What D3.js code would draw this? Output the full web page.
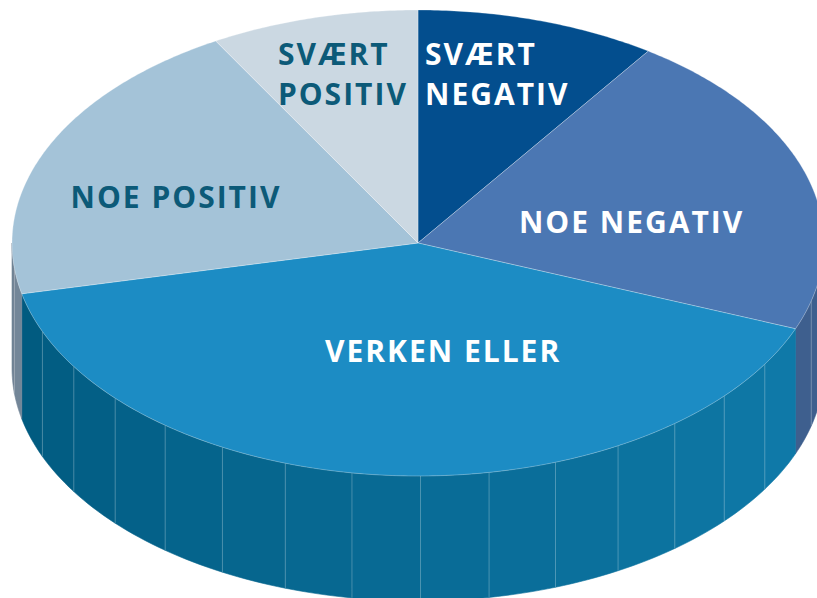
<!DOCTYPE html>
<html>
<head>
<meta charset="utf-8">
<script src="https://cdn.jsdelivr.net/npm/d3@7"></script>
<style>
  body { margin: 0; background: #fff; }
  svg { display: block; }
  .lbl { font-family: "Open Sans", sans-serif; font-weight: 700; letter-spacing: 2px; }
</style>
</head>
<body>
<svg id="chart"></svg>
<script>
// slices, clockwise from 12 o'clock
var categories = ["SVÆRT NEGATIV", "NOE NEGATIV", "VERKEN ELLER", "NOE POSITIV", "SVÆRT POSITIV"]
var shares = [9.6, 21.4, 40.5, 20.2, 8.3]
var labelLines = [["SVÆRT", "NEGATIV"], ["NOE NEGATIV"], ["VERKEN ELLER"], ["NOE POSITIV"], ["SVÆRT", "POSITIV"]]

var topColors = ["#034e8e", "#4b77b3", "#1c8cc4", "#a4c3d8", "#cbd8e2"]
var sideColors = [["#02406f", "#02406f"], ["#3e5f8e", "#3e5f8e"], ["#0f7aa9", "#005a7f"], ["#758899", "#6e8193"], ["#8ea0b0", "#8ea0b0"]]
var textColors = ["#ffffff", "#ffffff", "#ffffff", "#0c5a78", "#0c5a78"]

var drawPie = function(target)
{
    var screen = {width: 817, height: 598}
    var geo = {cx: 418, cy: 243, rx: 406, ry: 233, depth: 125}

    var svg = d3.select(target)
        .attr("width", screen.width)
        .attr("height", screen.height)

    var slices = d3.pie().sort(null).value(function(d) { return d })(shares)

    var px = function(a) { return geo.cx + geo.rx * Math.sin(a) }
    var py = function(a) { return geo.cy - geo.ry * Math.cos(a) }

    // sides: only the front half (pi/2 .. 3pi/2) can be seen
    var sides = svg.append("g").classed("sides", true)
    var facet = Math.PI / 18
    slices.forEach(function(s, i)
    {
        var a0 = Math.max(s.startAngle, Math.PI / 2)
        var a1 = Math.min(s.endAngle, Math.PI * 1.5)
        if (a1 <= a0) return
        var shade = d3.interpolateRgb(sideColors[i][0], sideColors[i][1])
        var n = Math.max(1, Math.ceil((a1 - a0) / facet))
        d3.range(n).forEach(function(k)
        {
            var b0 = a0 + (a1 - a0) * k / n
            var b1 = a0 + (a1 - a0) * (k + 1) / n
            var c = shade((k + 0.5) / n)
            var pts = d3.range(0, 1.0001, 0.125).map(function(t) { return b0 + (b1 - b0) * t })
            var top = pts.map(function(a) { return [px(a), py(a)] })
            var bot = pts.slice().reverse().map(function(a) { return [px(a), py(a) + geo.depth] })
            sides.append("path")
                .attr("d", d3.line()(top.concat(bot)) + "Z")
                .attr("fill", c)
                .attr("stroke", c)
                .attr("stroke-width", 0.6)
        })
        // faint facet seams
        d3.range(1, n).forEach(function(k)
        {
            var b = a0 + (a1 - a0) * k / n
            sides.append("line")
                .attr("x1", px(b)).attr("y1", py(b))
                .attr("x2", px(b)).attr("y2", py(b) + geo.depth)
                .attr("stroke", "#ffffff")
                .attr("stroke-opacity", 0.25)
                .attr("stroke-width", 1)
        })
    })

    // top faces
    var tops = svg.append("g").classed("tops", true)
    slices.forEach(function(s, i)
    {
        var steps = Math.max(8, Math.ceil((s.endAngle - s.startAngle) / 0.01))
        var rim = d3.range(steps + 1).map(function(k)
        {
            var a = s.startAngle + (s.endAngle - s.startAngle) * k / steps
            return [px(a), py(a)]
        })
        tops.append("path")
            .attr("d", d3.line()([[geo.cx, geo.cy]].concat(rim)) + "Z")
            .attr("fill", topColors[i])
            .attr("stroke", "#ffffff")
            .attr("stroke-opacity", 0.35)
            .attr("stroke-width", 0.8)
            .attr("stroke-linejoin", "round")
    })

    // labels, anchored from each slice's mid angle
    var labelPlace = [
        {k: 0.755, dx: -84, anchor: "start"},
        {k: 0.295, dx: 99, anchor: "middle"},
        {k: 0.469, dx: 40, anchor: "middle"},
        {k: 0.479, dx: -64, anchor: "middle"},
        {k: 0.746, dx: -62, anchor: "start"}
    ]
    var lineGap = 40
    slices.forEach(function(s, i)
    {
        var mid = (s.startAngle + s.endAngle) / 2
        var p = labelPlace[i]
        var x = geo.cx + geo.rx * p.k * Math.sin(mid) + p.dx
        var y = geo.cy - geo.ry * p.k * Math.cos(mid)
        var lines = labelLines[i]
        var t = svg.append("text")
            .classed("lbl", true)
            .attr("x", x)
            .attr("y", y)
            .attr("text-anchor", p.anchor)
            .attr("fill", textColors[i])
            .attr("font-size", 30)
        lines.forEach(function(l, j)
        {
            t.append("tspan")
                .attr("x", x)
                .attr("y", y + (j - (lines.length - 1) / 2) * lineGap + 10)
                .text(l)
        })
    })
}

drawPie("#chart")
</script>
</body>
</html>
